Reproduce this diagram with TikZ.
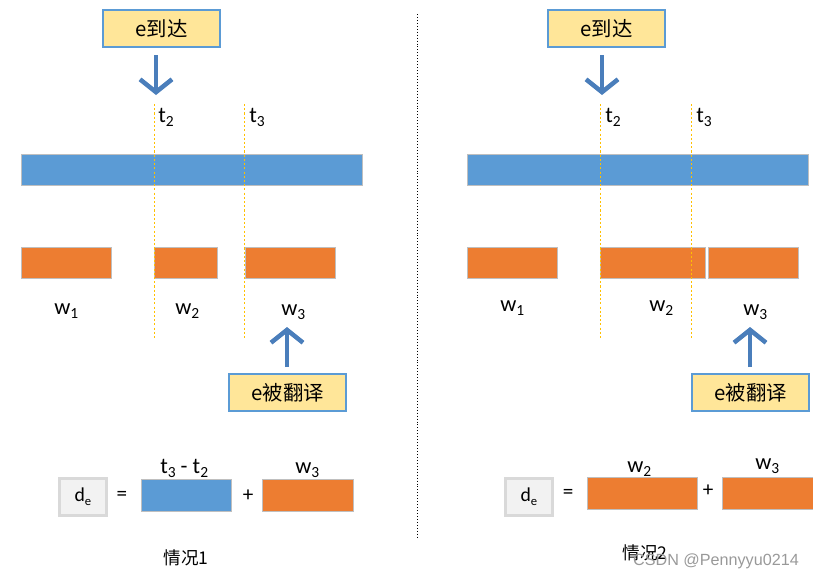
\documentclass[tikz,border=0pt]{standalone}
\usepackage{fontspec}
\setmainfont{Carlito}
\newfontfamily\cjk{Noto Sans CJK SC}
\newfontfamily\wmfont{Liberation Sans}
\usepackage{xcolor}
\usetikzlibrary{arrows.meta}

\definecolor{barblue}{HTML}{5B9BD5}
\definecolor{barorange}{HTML}{ED7D31}
\definecolor{notefill}{HTML}{FFE699}
\definecolor{arrowblue}{HTML}{4A7EBB}
\definecolor{guideyellow}{HTML}{FFC000}
\definecolor{barline}{HTML}{BFBFBF}
\definecolor{keyfill}{HTML}{F2F2F2}
\definecolor{keyline}{HTML}{D9D9D9}

\newcommand{\pxu}{0.025cm}
\newcommand{\lowidx}[2][11]{\raisebox{-0.45ex}{\fontsize{#1}{#1}\selectfont #2}}

\begin{document}
\begin{tikzpicture}[x=0.025cm, y=-0.025cm, inner sep=0pt,
  bar/.style={draw=barline, line width=0.6pt, anchor=north west, minimum height=31*\pxu},
  bluebar/.style={bar, fill=barblue},
  orangebar/.style={bar, fill=barorange},
  note/.style={draw=barblue, line width=1.6pt, fill=notefill, anchor=north west,
    minimum width=117*\pxu, minimum height=37*\pxu, font=\cjk\fontsize{14.5}{14.5}\selectfont},
  keybox/.style={draw=keyline, line width=2pt, fill=keyfill, anchor=north west,
    minimum width=47*\pxu, minimum height=37*\pxu, font=\fontsize{14}{14}\selectfont},
  guide/.style={guideyellow, dash pattern=on 1.5pt off 1.5pt, line width=0.7pt},
  divider/.style={black, dash pattern=on 0.7pt off 1.4pt, line width=0.6pt},
  bigarrow/.style={arrowblue, line width=3.2pt, -{Straight Barb[length=0.32cm, width=0.8cm]}},
  lbl/.style={anchor=base west, font=\fontsize{16}{16}\selectfont},
  sign/.style={font=\fontsize{15}{15}\selectfont},
  caption/.style={font=\cjk\fontsize{12.5}{12.5}\selectfont}]

\useasboundingbox (0,0) rectangle (813,579);

% case 1
\node [bluebar, minimum width=341*\pxu] (sent1) at (21,154) {};
\node [orangebar, minimum width=90*\pxu] (wa1) at (21,247) {};
\node [orangebar, minimum width=63*\pxu] (wb1) at (154,247) {};
\node [orangebar, minimum width=90*\pxu] (wc1) at (245,247) {};

\coordinate (g2top1) at (154,104); \coordinate (g2bot1) at (154,340);
\coordinate (g3top1) at (244,104); \coordinate (g3bot1) at (244,340);
\draw [guide] (g2top1) -- (g2bot1);
\draw [guide] (g3top1) -- (g3bot1);

\node [lbl] (t2a) at (158,122) {t\lowidx{2}};
\node [lbl] (t3a) at (249,122) {t\lowidx{3}};
\node [lbl] (w1a) at (54,314) {w\lowidx{1}};
\node [lbl] (w2a) at (175,314) {w\lowidx{2}};
\node [lbl] (w3a) at (281,315) {w\lowidx{3}};

\node [note] (arrive1) at (102,9) {e到达};
\coordinate (arrive1tip) at (156,95);
\draw [bigarrow] ([yshift=-7*\pxu]arrive1.south -| arrive1tip) -- (arrive1tip);

\node [note] (trans1) at (228,373) {e被翻译};
\coordinate (trans1tip) at (287,327);
\draw [bigarrow] ([yshift=6*\pxu]trans1.north -| trans1tip) -- (trans1tip);

\node [keybox] (de1) at (58,477) {d\lowidx[9]{e}};
\node [sign] (eq1) at (122,496) {=};
\node [bluebar, minimum width=90*\pxu, minimum height=32*\pxu] (gap1) at (141,479) {};
\node [sign] (plus1) at (248,496) {+};
\node [orangebar, minimum width=91*\pxu, minimum height=32*\pxu] (last1) at (262,479) {};
\node [lbl] (gaplbl1) at (160,473) {t\lowidx{3} - t\lowidx{2}};
\node [lbl] (lastlbl1) at (295,473) {w\lowidx{3}};
\node [caption] (case1) at (186,558) {情况1};

% divider
\coordinate (divtop) at (417,14); \coordinate (divbot) at (417,537);
\draw [divider] (divtop) -- (divbot);

% case 2
\node [bluebar, minimum width=341*\pxu] (sent2) at (467,154) {};
\node [orangebar, minimum width=90*\pxu] (wa2) at (467,247) {};
\node [orangebar, minimum width=105*\pxu] (wb2) at (600,247) {};
\node [orangebar, minimum width=90*\pxu] (wc2) at (708,247) {};

\coordinate (g2top2) at (600,104); \coordinate (g2bot2) at (600,340);
\coordinate (g3top2) at (691,104); \coordinate (g3bot2) at (691,340);
\draw [guide] (g2top2) -- (g2bot2);
\draw [guide] (g3top2) -- (g3bot2);

\node [lbl] (t2b) at (605,122) {t\lowidx{2}};
\node [lbl] (t3b) at (696,122) {t\lowidx{3}};
\node [lbl] (w1b) at (500,311) {w\lowidx{1}};
\node [lbl] (w2b) at (649,311) {w\lowidx{2}};
\node [lbl] (w3b) at (743,315) {w\lowidx{3}};

\node [note] (arrive2) at (547,9) {e到达};
\coordinate (arrive2tip) at (602,95);
\draw [bigarrow] ([yshift=-7*\pxu]arrive2.south -| arrive2tip) -- (arrive2tip);

\node [note] (trans2) at (691,373) {e被翻译};
\coordinate (trans2tip) at (750,327);
\draw [bigarrow] ([yshift=6*\pxu]trans2.north -| trans2tip) -- (trans2tip);

\node [keybox] (de2) at (504,477) {d\lowidx[9]{e}};
\node [sign] (eq2) at (568,494) {=};
\node [orangebar, minimum width=110*\pxu, minimum height=32*\pxu] (mid2) at (587,477) {};
\node [sign] (plus2) at (708,491) {+};
\node [orangebar, minimum width=100*\pxu, minimum height=32*\pxu] (last2) at (722,477) {};
\node [lbl] (midlbl2) at (627,472) {w\lowidx{2}};
\node [lbl] (lastlbl2) at (755,469) {w\lowidx{3}};
\node [caption] (case2) at (645,553) {情况2};

\node [text=black!40, font=\wmfont\fontsize{11.5}{11.5}\selectfont] (mark) at (716,561) {CSDN @Pennyyu0214};
\end{tikzpicture}
\end{document}
